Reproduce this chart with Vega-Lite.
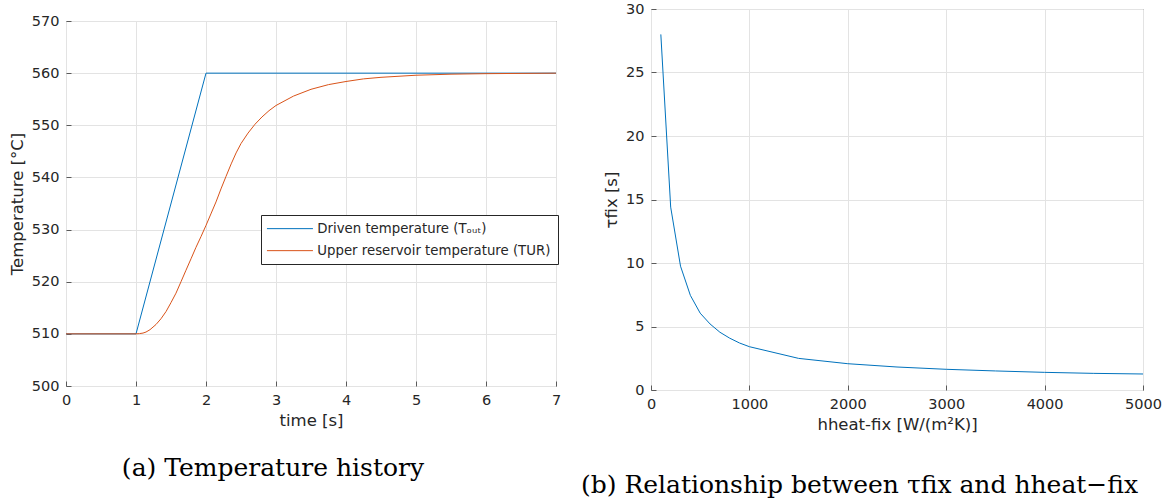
{
  "$schema": "https://vega.github.io/schema/vega-lite/v6.json",
  "background": "white",
  "padding": {"left": 8, "top": 0, "right": 8, "bottom": 5},
  "config": {
    "font": "DejaVu Sans",
    "view": {"stroke": "#5a5a5a", "strokeWidth": 1},
    "axis": {
      "domain": false, "grid": true, "gridColor": "#e3e3e3", "gridWidth": 1,
      "ticks": true, "tickColor": "#5a5a5a", "tickSize": -5, "labelPadding": 12,
      "labelFontSize": 14.5, "labelColor": "#262626", "labelFont": "DejaVu Sans",
      "titleFont": "DejaVu Sans", "titleFontSize": 16.5, "titleFontWeight": "normal",
      "titleColor": "#262626", "titlePadding": 6, "labelFlush": false, "labelOverlap": false
    },
    "title": {"font": "DejaVu Serif", "fontSize": 25, "fontWeight": "normal", "color": "#000000"}
  },
  "datasets": {
    "temp": [
      {"t": 0, "T": 510, "series": "Driven temperature (Tₒᵤₜ)"},
      {"t": 1, "T": 510, "series": "Driven temperature (Tₒᵤₜ)"},
      {"t": 2, "T": 560, "series": "Driven temperature (Tₒᵤₜ)"},
      {"t": 7, "T": 560, "series": "Driven temperature (Tₒᵤₜ)"},
      {"t": 0, "T": 510, "series": "Upper reservoir temperature (TUR)"},
      {"t": 1, "T": 510, "series": "Upper reservoir temperature (TUR)"},
      {"t": 1.05, "T": 510.05, "series": "Upper reservoir temperature (TUR)"},
      {"t": 1.1, "T": 510.15, "series": "Upper reservoir temperature (TUR)"},
      {"t": 1.143, "T": 510.35, "series": "Upper reservoir temperature (TUR)"},
      {"t": 1.2, "T": 510.8, "series": "Upper reservoir temperature (TUR)"},
      {"t": 1.286, "T": 511.8, "series": "Upper reservoir temperature (TUR)"},
      {"t": 1.357, "T": 512.9, "series": "Upper reservoir temperature (TUR)"},
      {"t": 1.43, "T": 514.3, "series": "Upper reservoir temperature (TUR)"},
      {"t": 1.5, "T": 516.0, "series": "Upper reservoir temperature (TUR)"},
      {"t": 1.571, "T": 517.8, "series": "Upper reservoir temperature (TUR)"},
      {"t": 1.643, "T": 520.0, "series": "Upper reservoir temperature (TUR)"},
      {"t": 1.714, "T": 522.2, "series": "Upper reservoir temperature (TUR)"},
      {"t": 1.786, "T": 524.4, "series": "Upper reservoir temperature (TUR)"},
      {"t": 1.857, "T": 526.6, "series": "Upper reservoir temperature (TUR)"},
      {"t": 1.93, "T": 528.7, "series": "Upper reservoir temperature (TUR)"},
      {"t": 2.0, "T": 530.8, "series": "Upper reservoir temperature (TUR)"},
      {"t": 2.07, "T": 533.0, "series": "Upper reservoir temperature (TUR)"},
      {"t": 2.143, "T": 535.3, "series": "Upper reservoir temperature (TUR)"},
      {"t": 2.214, "T": 537.8, "series": "Upper reservoir temperature (TUR)"},
      {"t": 2.286, "T": 540.2, "series": "Upper reservoir temperature (TUR)"},
      {"t": 2.36, "T": 542.6, "series": "Upper reservoir temperature (TUR)"},
      {"t": 2.43, "T": 544.7, "series": "Upper reservoir temperature (TUR)"},
      {"t": 2.5, "T": 546.5, "series": "Upper reservoir temperature (TUR)"},
      {"t": 2.6, "T": 548.5, "series": "Upper reservoir temperature (TUR)"},
      {"t": 2.7, "T": 550.2, "series": "Upper reservoir temperature (TUR)"},
      {"t": 2.8, "T": 551.6, "series": "Upper reservoir temperature (TUR)"},
      {"t": 2.9, "T": 552.8, "series": "Upper reservoir temperature (TUR)"},
      {"t": 3.0, "T": 553.8, "series": "Upper reservoir temperature (TUR)"},
      {"t": 3.25, "T": 555.6, "series": "Upper reservoir temperature (TUR)"},
      {"t": 3.5, "T": 556.9, "series": "Upper reservoir temperature (TUR)"},
      {"t": 3.75, "T": 557.8, "series": "Upper reservoir temperature (TUR)"},
      {"t": 4.0, "T": 558.4, "series": "Upper reservoir temperature (TUR)"},
      {"t": 4.25, "T": 558.9, "series": "Upper reservoir temperature (TUR)"},
      {"t": 4.5, "T": 559.2, "series": "Upper reservoir temperature (TUR)"},
      {"t": 5.0, "T": 559.6, "series": "Upper reservoir temperature (TUR)"},
      {"t": 5.5, "T": 559.8, "series": "Upper reservoir temperature (TUR)"},
      {"t": 6.0, "T": 559.9, "series": "Upper reservoir temperature (TUR)"},
      {"t": 7.0, "T": 560.0, "series": "Upper reservoir temperature (TUR)"}
    ],
    "tau": [
      {"h": 100, "tau": 28.0},
      {"h": 200, "tau": 14.4},
      {"h": 300, "tau": 9.75},
      {"h": 400, "tau": 7.45},
      {"h": 500, "tau": 6.05},
      {"h": 600, "tau": 5.2},
      {"h": 700, "tau": 4.55},
      {"h": 800, "tau": 4.08},
      {"h": 900, "tau": 3.7},
      {"h": 1000, "tau": 3.41},
      {"h": 1500, "tau": 2.49},
      {"h": 2000, "tau": 2.07},
      {"h": 2500, "tau": 1.81},
      {"h": 3000, "tau": 1.63},
      {"h": 3500, "tau": 1.5},
      {"h": 4000, "tau": 1.39},
      {"h": 4500, "tau": 1.31},
      {"h": 5000, "tau": 1.26}
    ]
  },
  "hconcat": [
    {
      "bounds": "flush",
      "spacing": 11,
      "vconcat": [
        {
          "width": 490, "height": 1,
          "view": {"stroke": null},
          "data": {"values": []},
          "mark": "point"
        },
        {
          "width": 490, "height": 365,
          "title": {"text": "(a) Temperature history", "orient": "bottom", "anchor": "middle", "frame": "bounds", "offset": 27, "dx": -12},
          "data": {"name": "temp"},
          "mark": {"type": "line", "strokeWidth": 1},
          "encoding": {
            "x": {"field": "t", "type": "quantitative", "scale": {"domain": [0, 7], "nice": false},
                  "axis": {"title": "time [s]", "values": [0, 1, 2, 3, 4, 5, 6, 7]}},
            "y": {"field": "T", "type": "quantitative", "scale": {"domain": [500, 570], "nice": false, "zero": false},
                  "axis": {"title": "Temperature [°C]", "values": [500, 510, 520, 530, 540, 550, 560, 570]}},
            "color": {"field": "series", "type": "nominal",
                      "scale": {"domain": ["Driven temperature (Tₒᵤₜ)", "Upper reservoir temperature (TUR)"], "range": ["#0072BD", "#D95319"]},
                      "legend": {"title": null, "orient": "none", "legendX": 195, "legendY": 206,
                                 "symbolType": "M-1.54,0H7.66", "symbolSize": 100, "symbolStrokeWidth": 1,
                                 "labelFontSize": 13.3, "labelColor": "#262626", "labelFont": "DejaVu Sans",
                                 "strokeColor": "#262626", "fillColor": "white", "padding": 7,
                                 "rowPadding": 8, "labelOffset": 36, "labelLimit": 400}}
          }
        }
      ]
    },
    {
      "width": 492, "height": 381,
      "title": {"text": "(b) Relationship between τfix and hheat−fix", "orient": "bottom", "anchor": "middle", "frame": "bounds", "offset": 40, "dx": -23},
      "data": {"name": "tau"},
      "mark": {"type": "line", "strokeWidth": 1, "color": "#0072BD"},
      "encoding": {
        "x": {"field": "h", "type": "quantitative", "scale": {"domain": [0, 5000], "nice": false},
              "axis": {"title": "hheat-fix [W/(m²K)]", "values": [0, 1000, 2000, 3000, 4000, 5000], "format": "d"}},
        "y": {"field": "tau", "type": "quantitative", "scale": {"domain": [0, 30], "nice": false},
              "axis": {"title": "τfix [s]", "values": [0, 5, 10, 15, 20, 25, 30]}}
      }
    }
  ],
  "spacing": 18
}
